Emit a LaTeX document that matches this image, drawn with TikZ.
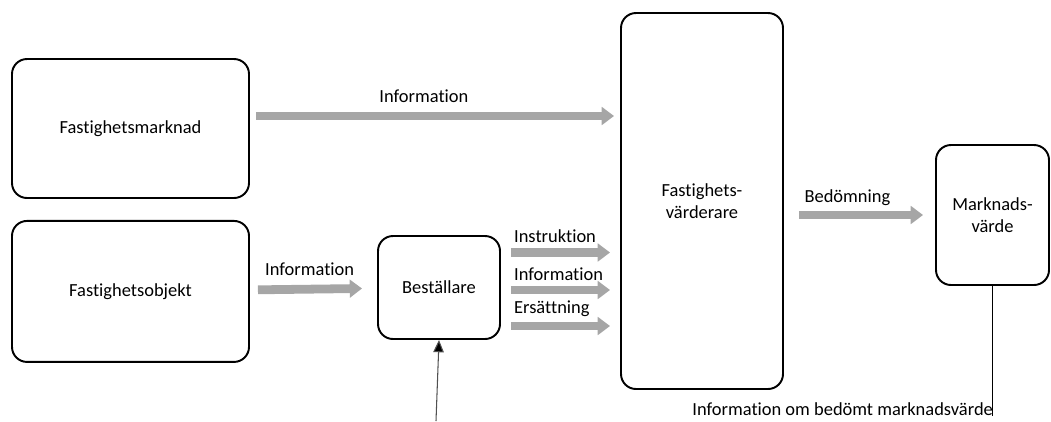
\documentclass[tikz,border=0pt]{standalone}
\usepackage{fontspec}
\setmainfont{Carlito}[Ligatures=NoCommon]
\usepackage{xcolor}
\usetikzlibrary{positioning, arrows.meta}
\definecolor{flowGrey}{HTML}{a6a6a6}
\definecolor{lineGrey}{HTML}{505050}

\begin{document}
\begin{tikzpicture}[font=\fontsize{10.5}{12.5}\selectfont,
  box/.style={draw, line width=1.1pt, rounded corners=0.3cm, align=center},
  flow/.style={flowGrey, line width=5pt, -{Triangle[length=7pt, width=10pt]}},
  lbl/.style={text=black, inner sep=2pt}]
\useasboundingbox (0,0) rectangle (21.02,-8.42);

\node[box, minimum width=4.74cm, minimum height=2.78cm] (marknad) at (2.61,-2.57) {Fastighetsmarknad};
\node[box, minimum width=4.74cm, minimum height=2.82cm, below=0.42cm of marknad] (objekt) {Fastighetsobjekt};
\node[box, minimum width=2.44cm, minimum height=2.06cm] (bestallare) at (8.78,-5.75) {Beställare};
\node[box, minimum width=3.24cm, minimum height=7.52cm] (vard) at (14.04,-4.02) {Fastighets-\\värderare};
\node[box, minimum width=2.26cm, minimum height=2.8cm] (varde) at (19.85,-4.30) {Marknads-\\värde};

% informationsflöden
\draw[flow, shorten <=0.12cm, shorten >=0.12cm] ([yshift=0.25cm]marknad.east) -- ([yshift=0.25cm]marknad.east -| vard.west)
  node[lbl, pos=0.47, above=3pt] {Information};
\draw[flow, shorten <=0.16cm, shorten >=0.3cm] (objekt) -- (bestallare)
  node[lbl, pos=0.47, above=3pt] {Information};
\draw[flow, shorten <=0.2cm, shorten >=0.2cm] ([yshift=0.7cm]bestallare.east) -- ([yshift=0.7cm]bestallare.east -| vard.west)
  node[lbl, pos=0, anchor=south west, xshift=3pt, yshift=1pt] {Instruktion};
\draw[flow, shorten <=0.2cm, shorten >=0.2cm] ([yshift=-0.05cm]bestallare.east) -- ([yshift=-0.05cm]bestallare.east -| vard.west)
  node[lbl, pos=0, anchor=south west, xshift=3pt, yshift=1pt] {Information};
\draw[flow, shorten <=0.2cm, shorten >=0.2cm] ([yshift=-0.77cm]bestallare.east) -- ([yshift=-0.77cm]bestallare.east -| vard.west)
  node[lbl, pos=0, anchor=south west, xshift=3pt, yshift=1pt] {Ersättning};
\draw[flow, shorten <=0.3cm, shorten >=0.24cm] (vard.east |- varde.west) -- (varde.west)
  node[lbl, pos=0.42, above=1pt] {Bedömning};

% in- och utgång
\coordinate (uppdrag) at (8.72,-8.42);
\coordinate (utfall) at (varde.south |- 0,-8.32);
\draw[lineGrey, line width=0.6pt, -{Triangle[length=7pt, width=6pt, fill=black]}] (uppdrag) -- (bestallare.south);
\draw[line width=0.6pt] (varde.south) -- (utfall);
\node[anchor=east, inner sep=1pt] (utinfo) at (19.9,-8.18) {Information om bedömt marknadsvärde};
\end{tikzpicture}
\end{document}
